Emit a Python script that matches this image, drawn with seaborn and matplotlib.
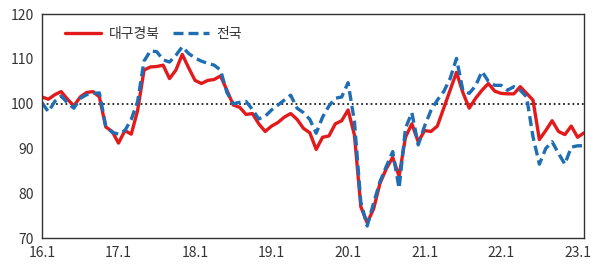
import numpy as np
import pandas as pd
import matplotlib
matplotlib.use("Agg")
import matplotlib.pyplot as plt
import seaborn as sns

# Monthly index, 2016.1 – 2023.2
tick_labels = ["16.1", "17.1", "18.1", "19.1", "20.1", "21.1", "22.1", "23.1"]

daegu = [101.5, 101.0, 102.0, 102.7, 101.0, 99.5, 101.5, 102.5, 102.7, 101.5,
         94.8, 93.8, 91.2, 94.0, 93.2, 98.5, 107.5, 108.2, 108.3, 108.6,
         105.6, 107.5, 111.0, 108.0, 105.2, 104.5, 105.2, 105.4, 106.2, 103.0,
         99.7, 99.2, 97.6, 97.8, 95.5, 93.8, 95.0, 95.8, 97.0, 97.8,
         96.5, 94.5, 93.5, 89.8, 92.5, 92.8, 95.5, 96.2, 98.6, 93.0,
         77.0, 73.4, 76.5, 82.2, 85.5, 88.0, 83.8, 92.5, 95.5, 91.5,
         94.0, 93.8, 95.0, 99.0, 103.0, 107.0, 102.5, 99.0, 101.2, 103.0,
         104.5, 102.8, 102.3, 102.2, 102.2, 103.8, 102.3, 100.8, 92.0, 94.0,
         96.2, 93.8, 93.1, 95.0, 92.5, 93.5]

national = [100.2, 98.2, 100.5, 101.7, 100.2, 99.0, 101.2, 102.0, 102.3, 102.4,
            95.0, 93.6, 93.2, 94.0, 96.5, 100.5, 109.5, 111.8, 111.6, 109.8,
            109.3, 110.8, 112.7, 111.2, 110.2, 109.5, 109.0, 108.6, 107.5, 102.5,
            100.0, 100.3, 100.5, 98.7, 96.6, 97.2, 98.6, 99.7, 100.8, 101.9,
            99.0, 98.0, 96.5, 93.4, 97.0, 99.5, 101.2, 101.5, 104.7, 96.0,
            78.0, 72.7, 77.8, 82.6, 86.0, 89.3, 81.1, 94.5, 98.0, 90.8,
            95.0, 98.5, 100.8, 102.7, 105.6, 110.1, 103.0, 102.3, 104.0, 107.2,
            105.0, 104.1, 104.1, 103.0, 103.8, 103.0, 101.5, 92.6, 86.5, 90.0,
            91.5, 88.9, 86.5, 90.3, 90.6, 90.6]

series_names = ["대구경북", "전국"]

n = len(daegu)
months = np.arange(n)
df = pd.DataFrame({
    "month": np.concatenate([months, months]),
    "value": daegu + national,
    "series": [series_names[0]] * n + [series_names[1]] * n,
})

sns.set_style("white")
plt.rcParams["font.family"] = ["Noto Sans CJK KR", "DejaVu Sans"]

fig = plt.figure(figsize=(6.05, 2.66), dpi=100)
ax = fig.add_axes([0.0694, 0.105, 0.8959, 0.842])

palette = {series_names[0]: "#e31a1c", series_names[1]: "#1f6db3"}
sns.lineplot(data=df, x="month", y="value", hue="series", style="series",
             palette=palette, dashes={series_names[0]: "", series_names[1]: (3, 1.5)},
             linewidth=2.4, ax=ax, legend=True)

ax.axhline(100, color="#222222", linestyle=(0, (1, 1.6)), linewidth=1.3, zorder=0)

ax.set_xlim(0, n - 1)
ax.set_ylim(70, 120)
ax.set_yticks([70, 80, 90, 100, 110, 120])
ax.set_xticks(np.arange(0, n, 12))
ax.set_xticklabels(tick_labels)
ax.set_xlabel("")
ax.set_ylabel("")
ax.tick_params(axis="both", direction="in", length=4, width=0.8, colors="#333333",
               labelsize=10, labelcolor="#333333")
ax.tick_params(axis="x", pad=6)
ax.tick_params(axis="y", pad=6)
for sp in ax.spines.values():
    sp.set_visible(True)
    sp.set_color("#333333")
    sp.set_linewidth(1.0)

leg = ax.legend(loc="upper left", bbox_to_anchor=(0.02, 1.0), ncol=2, frameon=False,
                fontsize=10, handlelength=2.6, columnspacing=1.0, handletextpad=0.5)
for t in leg.get_texts():
    t.set_color("#333333")

fig.savefig("out.png", dpi=100)
